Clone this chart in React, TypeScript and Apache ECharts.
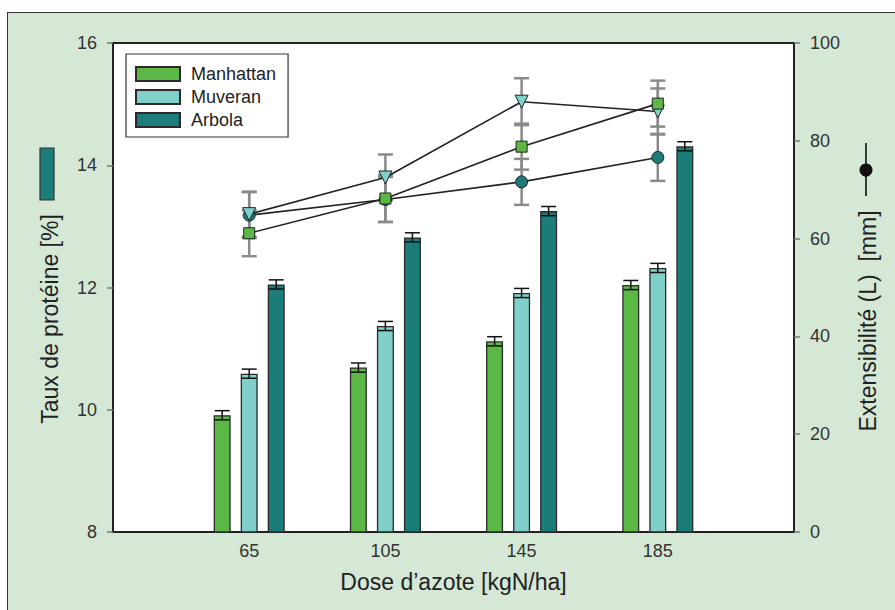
import React, { useEffect, useRef } from "react";
import * as echarts from "echarts";

const doses = ["65", "105", "145", "185"];
const xCategories = ["", ...doses, ""];

const proteinManhattan = [9.91, 10.69, 11.12, 12.04];
const proteinMuveran = [10.59, 11.37, 11.91, 12.32];
const proteinArbola = [12.05, 12.82, 13.25, 14.31];
const proteinErrManhattan = [0.075, 0.075, 0.075, 0.075];
const proteinErrMuveran = [0.075, 0.075, 0.075, 0.075];
const proteinErrArbola = [0.075, 0.075, 0.075, 0.075];

const extManhattan = [61.1, 68.2, 78.8, 87.6];
const extMuveran = [65.0, 72.5, 88.0, 86.0];
const extArbola = [64.8, 68.0, 71.6, 76.6];
const extErrManhattan = [4.7, 4.8, 4.7, 4.7];
const extErrMuveran = [4.6, 4.7, 4.8, 4.7];
const extErrArbola = [4.7, 4.6, 4.7, 4.8];

const leftTicks = { min: 8, max: 16, interval: 2 };
const rightTicks = { min: 0, max: 100, interval: 20 };

const C_GREEN = "#5cb845";
const C_CYAN = "#7fd0cb";
const C_TEAL = "#1c7c79";
const FONT = "'Liberation Sans', Arial, Helvetica, sans-serif";

const pad = (a: number[]) => [null, ...a, null];

function errorSeries(
  name: string,
  means: number[],
  errs: number[],
  yAxisIndex: number,
  offset: number,
  capW: number,
  color: string,
  lw: number,
  z: number
) {
  return {
    type: "custom",
    name,
    yAxisIndex,
    z,
    silent: true,
    encode: { x: 0, y: [1, 2] },
    data: means.map((m, i) => [i + 1, m - errs[i], m + errs[i]]),
    renderItem: (params: any, api: any) => {
      const idx = api.value(0);
      const lo = api.coord([idx, api.value(1)]);
      const hi = api.coord([idx, api.value(2)]);
      const x = lo[0] + offset;
      const style = { stroke: color, lineWidth: lw };
      return {
        type: "group",
        children: [
          { type: "line", shape: { x1: x, y1: lo[1], x2: x, y2: hi[1] }, style },
          { type: "line", shape: { x1: x - capW / 2, y1: lo[1], x2: x + capW / 2, y2: lo[1] }, style },
          { type: "line", shape: { x1: x - capW / 2, y1: hi[1], x2: x + capW / 2, y2: hi[1] }, style },
        ],
      };
    },
  };
}

export default function App() {
  const ref = useRef<HTMLDivElement>(null);
  useEffect(() => {
    if (!ref.current) return;
    const chart = echarts.init(ref.current, null, { renderer: "svg" });
    const barCommon = {
      type: "bar",
      yAxisIndex: 0,
      barWidth: 17,
      barGap: "59%",
      z: 2,
    };
    const lineCommon = {
      type: "line",
      yAxisIndex: 1,
      lineStyle: { color: "#222", width: 1.6 },
      connectNulls: false,
    };
    const option: any = {
      animation: false,
      textStyle: { fontFamily: FONT },
      grid: {
        left: 113,
        top: 43,
        right: 101,
        bottom: 78,
        show: true,
        backgroundColor: "#ffffff",
        borderColor: "#222",
        borderWidth: 2,
      },
      legend: {
        data: ["Manhattan", "Muveran", "Arbola"],
        orient: "vertical",
        left: 126,
        top: 54,
        itemWidth: 44,
        itemHeight: 14,
        itemGap: 5,
        padding: [11, 12, 8, 9],
        backgroundColor: "#ffffff",
        borderColor: "#333",
        borderWidth: 1.2,
        borderRadius: 0,
        icon: "rect",
        textStyle: { fontSize: 18, color: "#222", fontFamily: FONT, padding: [0, 0, 0, 6] },
      },
      xAxis: {
        type: "category",
        data: xCategories,
        boundaryGap: false,
        axisLine: { show: true, lineStyle: { color: "#222", width: 2 } },
        axisTick: { show: false },
        axisLabel: { fontSize: 18, color: "#333", margin: 10, fontFamily: FONT },
        splitLine: { show: false },
        name: "Dose d’azote [kgN/ha]",
        nameLocation: "middle",
        nameGap: 38,
        nameTextStyle: { fontSize: 23, color: "#222", fontFamily: FONT },
      },
      yAxis: [
        {
          type: "value",
          position: "left",
          min: leftTicks.min,
          max: leftTicks.max,
          interval: leftTicks.interval,
          axisLine: { show: true, lineStyle: { color: "#222", width: 2 } },
          axisTick: { show: true, length: 6, lineStyle: { color: "#777", width: 1.5 } },
          axisLabel: { fontSize: 18, color: "#333", margin: 16, fontFamily: FONT },
          splitLine: { show: false },
        },
        {
          type: "value",
          position: "right",
          min: rightTicks.min,
          max: rightTicks.max,
          interval: rightTicks.interval,
          axisLine: { show: true, lineStyle: { color: "#222", width: 2 } },
          axisTick: { show: true, length: 6, lineStyle: { color: "#777", width: 1.5 } },
          axisLabel: { fontSize: 18, color: "#333", margin: 16, fontFamily: FONT },
          splitLine: { show: false },
        },
      ],
      graphic: [
        {
          type: "text",
          x: 50,
          y: 319,
          rotation: Math.PI / 2,
          style: {
            text: "Taux de protéine [%]",
            fontSize: 23,
            fontFamily: FONT,
            fill: "#222",
            textAlign: "center",
            textVerticalAlign: "middle",
          },
        },
        {
          type: "rect",
          shape: { x: 40, y: 148, width: 14, height: 52 },
          style: { fill: C_TEAL, stroke: "#333", lineWidth: 1.2 },
        },
        {
          type: "text",
          x: 868,
          y: 321,
          rotation: Math.PI / 2,
          style: {
            text: "Extensibilité (L)  [mm]",
            fontSize: 23,
            fontFamily: FONT,
            fill: "#222",
            textAlign: "center",
            textVerticalAlign: "middle",
          },
        },
        {
          type: "line",
          shape: { x1: 866, y1: 143, x2: 866, y2: 196 },
          style: { stroke: "#111", lineWidth: 1.6 },
        },
        {
          type: "circle",
          shape: { cx: 866, cy: 170, r: 6.5 },
          style: { fill: "#111" },
        },
      ],
      series: [
        {
          ...barCommon,
          name: "Manhattan",
          data: pad(proteinManhattan),
          itemStyle: { color: C_GREEN, borderColor: "#2a2a2a", borderWidth: 1.3 },
        },
        {
          ...barCommon,
          name: "Muveran",
          data: pad(proteinMuveran),
          itemStyle: { color: C_CYAN, borderColor: "#2a2a2a", borderWidth: 1.3 },
        },
        {
          ...barCommon,
          name: "Arbola",
          data: pad(proteinArbola),
          itemStyle: { color: C_TEAL, borderColor: "#2a2a2a", borderWidth: 1.3 },
        },
        errorSeries("errM", proteinManhattan, proteinErrManhattan, 0, -27, 15, "#111", 1.5, 3),
        errorSeries("errMu", proteinMuveran, proteinErrMuveran, 0, 0, 15, "#111", 1.5, 3),
        errorSeries("errA", proteinArbola, proteinErrArbola, 0, 27, 15, "#111", 1.5, 3),
        errorSeries("eA", extArbola, extErrArbola, 1, 0, 15, "#8a8a8a", 2.5, 4),
        errorSeries("eMu", extMuveran, extErrMuveran, 1, 0, 15, "#8a8a8a", 2.5, 4),
        errorSeries("eM", extManhattan, extErrManhattan, 1, 0, 15, "#8a8a8a", 2.5, 4),
        {
          ...lineCommon,
          name: "Extensibilité Arbola",
          z: 5,
          data: pad(extArbola),
          symbol: "circle",
          symbolSize: 12,
          itemStyle: { color: C_TEAL, borderColor: "#222", borderWidth: 1 },
        },
        {
          ...lineCommon,
          name: "Extensibilité Muveran",
          z: 6,
          data: pad(extMuveran),
          symbol: "triangle",
          symbolRotate: 180,
          symbolSize: 13,
          itemStyle: { color: C_CYAN, borderColor: "#222", borderWidth: 1 },
        },
        {
          ...lineCommon,
          name: "Extensibilité Manhattan",
          z: 7,
          data: pad(extManhattan),
          symbol: "rect",
          symbolSize: 11,
          itemStyle: { color: C_GREEN, borderColor: "#222", borderWidth: 1 },
        },
      ],
    };
    chart.setOption(option);
    return () => chart.dispose();
  }, []);

  return (
    <div style={{ position: "fixed", left: 0, top: 0, width: 895, height: 610, background: "#ffffff", overflow: "hidden" }}>
      <div
        style={{
          position: "absolute",
          left: 7,
          top: 12,
          width: 900,
          height: 610,
          background: "#d4e8d5",
          borderLeft: "1.5px solid #333",
          borderTop: "1.5px solid #333",
        }}
      />
      <div ref={ref} style={{ position: "absolute", left: 0, top: 0, width: 895, height: 610 }} />
    </div>
  );
}
